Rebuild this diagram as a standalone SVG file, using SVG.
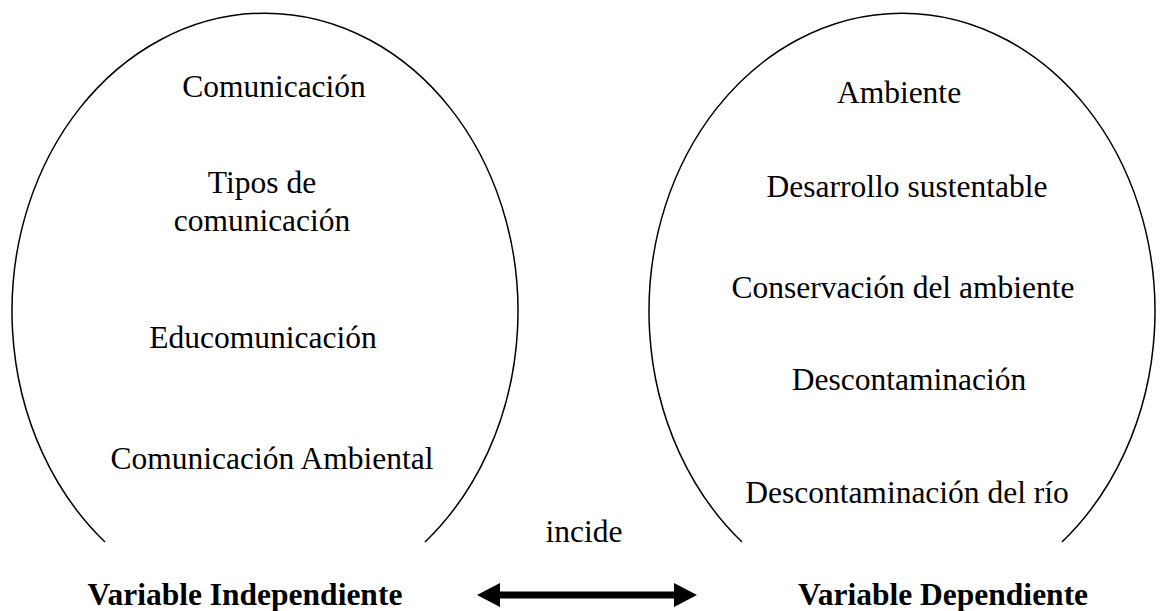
<svg xmlns="http://www.w3.org/2000/svg" width="1160" height="611" viewBox="0 0 1160 611">
  <style>
    .oval { fill: none; stroke: #000; stroke-width: 1.5; }
    .t { font-family: "Liberation Serif", "Times New Roman", serif; font-size: 31.5px; fill: #000; text-anchor: middle; }
    .b { font-weight: bold; }
  </style>
  <rect width="1160" height="611" fill="#fff"/>
  <g id="independiente">
    <path class="oval" d="M 105 542 A 253 298 0 1 1 425 542"/>
    <text class="t" x="274" y="97">Comunicación</text>
    <text class="t" x="262" y="193">Tipos de</text>
    <text class="t" x="262" y="231">comunicación</text>
    <text class="t" x="263" y="348">Educomunicación</text>
    <text class="t" x="272" y="469">Comunicación Ambiental</text>
    <text class="t b" x="245" y="605">Variable Independiente</text>
  </g>
  <g id="dependiente">
    <path class="oval" d="M 742 542 A 253 298 0 1 1 1062 542"/>
    <text class="t" x="899" y="103">Ambiente</text>
    <text class="t" x="907" y="197">Desarrollo sustentable</text>
    <text class="t" x="903" y="298">Conservación del ambiente</text>
    <text class="t" x="909" y="390">Descontaminación</text>
    <text class="t" x="907" y="503">Descontaminación del río</text>
    <text class="t b" x="943" y="605">Variable Dependiente</text>
  </g>
  <g id="connectors">
    <path d="M 477 595 L 500 583 L 500 591.5 L 674 591.5 L 674 583 L 697 595 L 674 607 L 674 598.5 L 500 598.5 L 500 607 Z" fill="#000"/>
    <text class="t" x="584" y="542">incide</text>
  </g>
</svg>
